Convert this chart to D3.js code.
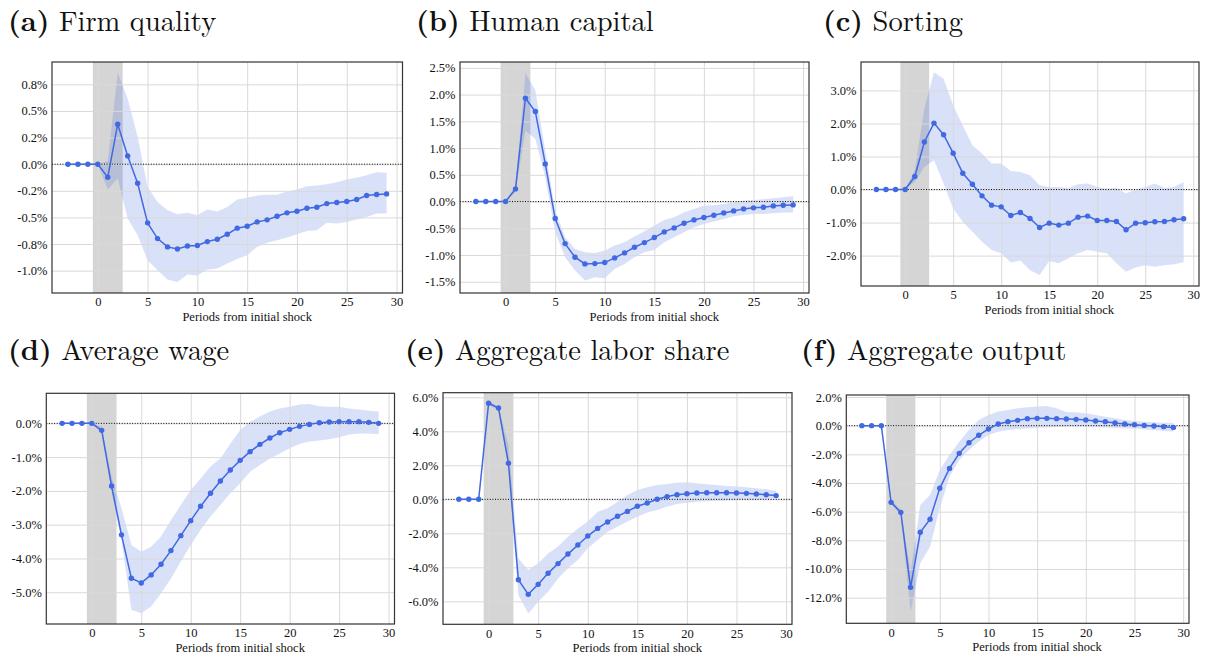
<!DOCTYPE html>
<html><head><meta charset="utf-8">
<script src="https://cdn.jsdelivr.net/npm/d3@7/dist/d3.min.js"></script>
<style>
html,body{margin:0;padding:0;background:#fff;}
svg{display:block;}
</style></head>
<body>
<svg id="chart" width="1208" height="659"></svg>
<script>
// ---------------- DATA (values in percent) ----------------
const periods = [-3,-2,-1,0,1,2,3,4,5,6,7,8,9,10,11,12,13,14,15,16,17,18,19,20,21,22,23,24,25,26,27,28,29];
const xTicks = [0,5,10,15,20,25,30];
const shockStart = -0.5, shockEnd = 2.5;

const titlesTag = ["(a)","(b)","(c)","(d)","(e)","(f)"];
const titlesText = ["Firm quality","Human capital","Sorting","Average wage","Aggregate labor share","Aggregate output"];
const xLabel = "Periods from initial shock";

const firmMean = [0,0,0,0,-0.122,0.376,0.078,-0.179,-0.551,-0.699,-0.777,-0.796,-0.768,-0.764,-0.727,-0.705,-0.658,-0.601,-0.583,-0.542,-0.523,-0.489,-0.457,-0.442,-0.414,-0.404,-0.370,-0.360,-0.351,-0.332,-0.294,-0.285,-0.279];
const firmHi = [0,0,0,0,0.03,0.858,0.617,0.257,-0.213,-0.354,-0.432,-0.47,-0.457,-0.479,-0.426,-0.445,-0.401,-0.332,-0.316,-0.294,-0.288,-0.288,-0.257,-0.238,-0.207,-0.2,-0.188,-0.169,-0.144,-0.128,-0.103,-0.075,-0.081];
const firmLo = [0,0,0,0,-0.238,-0.135,-0.51,-0.667,-0.902,-0.996,-1.084,-1.106,-1.037,-1.046,-0.99,-0.98,-0.934,-0.89,-0.855,-0.777,-0.739,-0.714,-0.689,-0.658,-0.627,-0.62,-0.551,-0.558,-0.542,-0.52,-0.495,-0.464,-0.464];
const firmTicks = [-1.0,-0.75,-0.5,-0.25,0,0.25,0.5,0.75];
const firmTickLabels = ["-1.0%","-0.8%","-0.5%","-0.2%","0.0%","0.2%","0.5%","0.8%"];

const humanMean = [0,0,0,0,0.237,1.933,1.683,0.704,-0.318,-0.786,-1.041,-1.166,-1.16,-1.141,-1.054,-0.96,-0.854,-0.767,-0.673,-0.567,-0.493,-0.405,-0.343,-0.299,-0.256,-0.212,-0.175,-0.137,-0.118,-0.106,-0.081,-0.069,-0.062];
const humanHi = [0,0,0,0,0.3,2.4,2.08,0.95,-0.168,-0.667,-0.885,-0.948,-0.96,-0.916,-0.823,-0.76,-0.655,-0.555,-0.449,-0.343,-0.293,-0.2,-0.137,-0.075,-0.069,-0.044,-0.012,0.019,0.031,0.044,0.062,0.081,0.1];
const humanLo = [0,0,0,0,0.18,1.33,1.17,0.455,-0.574,-1.04,-1.29,-1.478,-1.415,-1.434,-1.26,-1.166,-1.041,-0.948,-0.904,-0.76,-0.667,-0.574,-0.48,-0.418,-0.374,-0.324,-0.274,-0.249,-0.231,-0.231,-0.218,-0.206,-0.206];
const humanTicks = [-1.5,-1.0,-0.5,0,0.5,1.0,1.5,2.0,2.5];
const humanTickLabels = ["-1.5%","-1.0%","-0.5%","0.0%","0.5%","1.0%","1.5%","2.0%","2.5%"];

const sortMean = [0,0,0,0,0.393,1.44,2.01,1.66,1.10,0.493,0.161,-0.191,-0.473,-0.524,-0.785,-0.695,-0.876,-1.148,-1.017,-1.077,-1.017,-0.836,-0.805,-0.936,-0.936,-0.966,-1.218,-1.017,-1.007,-0.977,-0.966,-0.916,-0.886];
const sortHi = [0,0,0,0,0.58,2.45,3.55,3.35,2.55,1.94,1.34,1.09,0.785,0.785,0.564,0.534,0.433,0.131,0.08,0.08,0.05,0.16,0.18,0.08,0.03,0.05,-0.12,0,0.08,0.18,0.05,0.08,0.23];
const sortLo = [0,0,0,0,0.23,0.685,0.886,0.18,-0.574,-0.977,-1.28,-1.58,-1.83,-1.93,-2.21,-2.15,-2.44,-2.59,-2.16,-2.23,-2.08,-1.93,-1.83,-1.88,-1.93,-2.23,-2.49,-2.36,-2.29,-2.34,-2.29,-2.26,-2.2];
const sortTicks = [-2,-1,0,1,2,3];
const sortTickLabels = ["-2.0%","-1.0%","0.0%","1.0%","2.0%","3.0%"];

const wageMean = [0,0,0,0,-0.207,-1.854,-3.30,-4.586,-4.724,-4.487,-4.172,-3.767,-3.324,-2.88,-2.456,-2.071,-1.706,-1.381,-1.095,-0.838,-0.621,-0.434,-0.276,-0.178,-0.089,-0.03,0.02,0.04,0.05,0.05,0.05,0.03,0.0];
const wageHi = [0,0,0,0,-0.1,-1.58,-2.51,-3.6,-3.8,-3.65,-3.35,-2.86,-2.42,-1.97,-1.63,-1.28,-1.04,-0.6,-0.2,0.05,0.2,0.35,0.44,0.49,0.56,0.57,0.51,0.49,0.49,0.44,0.41,0.37,0.35];
const wageLo = [0,0,0,0,-0.3,-2.02,-3.45,-5.52,-5.62,-5.42,-5.03,-4.59,-4.09,-3.6,-3.16,-2.76,-2.42,-2.07,-1.78,-1.43,-1.23,-1.04,-0.89,-0.74,-0.61,-0.54,-0.51,-0.47,-0.41,-0.33,-0.3,-0.3,-0.32];
const wageTicks = [-5,-4,-3,-2,-1,0];
const wageTickLabels = ["-5.0%","-4.0%","-3.0%","-2.0%","-1.0%","0.0%"];

const laborMean = [0,0,0,5.65,5.37,2.12,-4.73,-5.59,-5.0,-4.35,-3.78,-3.22,-2.69,-2.16,-1.71,-1.33,-1.0,-0.71,-0.41,-0.22,0,0.16,0.27,0.33,0.37,0.39,0.39,0.39,0.37,0.35,0.31,0.27,0.22];
const laborHi = [0,0,0,5.75,5.45,3.2,-3.47,-4.16,-3.76,-3.18,-2.78,-2.2,-1.71,-1.31,-0.73,-0.53,-0.14,0.25,0.55,0.71,0.84,0.9,0.98,1.0,0.94,0.88,0.84,0.78,0.75,0.71,0.65,0.59,0.49];
const laborLo = [0,0,0,5.55,5.25,1.9,-5.63,-6.71,-6.02,-5.43,-4.65,-4.06,-3.57,-2.88,-2.39,-1.9,-1.61,-1.31,-1.02,-0.78,-0.63,-0.43,-0.27,-0.2,-0.14,-0.12,-0.08,-0.08,-0.04,-0.04,-0.04,0,0.06];
const laborTicks = [-6,-4,-2,0,2,4,6];
const laborTickLabels = ["-6.0%","-4.0%","-2.0%","0.0%","2.0%","4.0%","6.0%"];

const outputMean = [0,0,0,-5.35,-6.05,-11.28,-7.44,-6.53,-4.37,-2.98,-1.93,-1.19,-0.67,-0.23,0.12,0.28,0.37,0.49,0.51,0.51,0.49,0.47,0.44,0.40,0.33,0.28,0.19,0.12,0.07,0.02,-0.02,-0.07,-0.12];
const outputHi = [0,0,0,-5.19,-5.88,-10.19,-5.53,-4.84,-3.09,-2.05,-1.12,-0.3,0.4,0.74,0.98,1.09,1.21,1.28,1.33,1.37,1.21,0.95,0.93,0.86,0.74,0.63,0.51,0.4,0.33,0.28,0.23,0.21,0.21];
const outputLo = [0,0,0,-5.47,-6.23,-12.98,-9.6,-8.44,-5.77,-3.56,-2.4,-1.7,-1.12,-0.65,-0.42,-0.3,-0.23,-0.19,-0.14,-0.12,-0.07,-0.02,-0.02,-0.02,-0.07,-0.12,-0.14,-0.19,-0.19,-0.26,-0.3,-0.35,-0.42];
const outputTicks = [-12,-10,-8,-6,-4,-2,0,2];
const outputTickLabels = ["-12.0%","-10.0%","-8.0%","-6.0%","-4.0%","-2.0%","0.0%","2.0%"];

// ---------------- LAYOUT ----------------
const xDomain = [-4.6, 30.6];
const panels = [
  {mean:firmMean, hi:firmHi, lo:firmLo, ticks:firmTicks, labels:firmTickLabels, yDomain:[-1.21,0.96],
   box:{l:52,r:402.5,t:62,b:293}, title:{x:8,y:31}},
  {mean:humanMean, hi:humanHi, lo:humanLo, ticks:humanTicks, labels:humanTickLabels, yDomain:[-1.71,2.61],
   box:{l:460,r:809,t:62,b:293}, title:{x:416,y:31}},
  {mean:sortMean, hi:sortHi, lo:sortLo, ticks:sortTicks, labels:sortTickLabels, yDomain:[-2.92,3.86],
   box:{l:861,r:1199,t:62,b:286}, title:{x:823,y:31}},
  {mean:wageMean, hi:wageHi, lo:wageLo, ticks:wageTicks, labels:wageTickLabels, yDomain:[-5.94,0.89],
   box:{l:46.3,r:394.5,t:393.3,b:624}, title:{x:8,y:360}},
  {mean:laborMean, hi:laborHi, lo:laborLo, ticks:laborTicks, labels:laborTickLabels, yDomain:[-7.35,6.27],
   box:{l:443,r:792,t:392.7,b:624.3}, title:{x:405,y:360}},
  {mean:outputMean, hi:outputHi, lo:outputLo, ticks:outputTicks, labels:outputTickLabels, yDomain:[-13.79,2.14],
   box:{l:846.3,r:1189,t:395,b:623.3}, title:{x:801,y:360}}
];

const blue = "royalblue";
const svg = d3.select("#chart");
const tickFont = "Liberation Serif";
const titleFont = "Latin Modern Roman";

panels.forEach((p, i) => {
  const B = p.box;
  const x = d3.scaleLinear().domain(xDomain).range([B.l, B.r]);
  const y = d3.scaleLinear().domain(p.yDomain).range([B.b, B.t]);
  const g = svg.append("g");

  const clipId = "clip" + i;
  g.append("clipPath").attr("id", clipId).append("rect")
    .attr("x", B.l).attr("y", B.t).attr("width", B.r - B.l).attr("height", B.b - B.t);
  const back = g.append("g").attr("clip-path", `url(#${clipId})`);
  const gridLayer = g.append("g");
  const front = g.append("g").attr("clip-path", `url(#${clipId})`);

  // shock shading
  back.append("rect")
    .attr("x", x(shockStart)).attr("width", x(shockEnd) - x(shockStart))
    .attr("y", B.t).attr("height", B.b - B.t)
    .attr("fill", "#d5d5d5");

  // confidence band
  const rows = periods.map((t, k) => ({t, m:p.mean[k], hi:p.hi[k], lo:p.lo[k]}));
  back.append("path").datum(rows)
    .attr("d", d3.area().x(d => x(d.t)).y0(d => y(d.lo)).y1(d => y(d.hi)))
    .attr("fill", blue).attr("fill-opacity", 0.2);

  // grid + axes
  const yAxis = d3.axisLeft(y).tickValues(p.ticks)
    .tickFormat((d, k) => p.labels[k])
    .tickSizeInner(-(B.r - B.l)).tickSizeOuter(0).tickPadding(4.5);
  const ya = gridLayer.append("g").attr("transform", `translate(${B.l},0)`).call(yAxis);
  const xAxis = d3.axisBottom(x).tickValues(xTicks).tickFormat(d3.format("d"))
    .tickSizeInner(-(B.b - B.t)).tickSizeOuter(0).tickPadding(4.5);
  const xa = gridLayer.append("g").attr("transform", `translate(0,${B.b})`).call(xAxis);
  [ya, xa].forEach(a => {
    a.attr("font-family", tickFont).attr("font-size", 12.5);
    a.select(".domain").remove();
    a.selectAll(".tick line").attr("stroke", "#d9d9d9").attr("stroke-width", 1);
    a.selectAll(".tick text").attr("fill", "#111");
  });

  // zero line
  front.append("line")
    .attr("x1", B.l).attr("x2", B.r).attr("y1", y(0)).attr("y2", y(0))
    .attr("stroke", "#000").attr("stroke-width", 1).attr("stroke-dasharray", "1,1.6");

  // mean line and markers
  front.append("path").datum(rows)
    .attr("d", d3.line().x(d => x(d.t)).y(d => y(d.m)))
    .attr("fill", "none").attr("stroke", blue).attr("stroke-width", 1.5);
  front.selectAll("circle").data(rows).join("circle")
    .attr("cx", d => x(d.t)).attr("cy", d => y(d.m)).attr("r", 2.7)
    .attr("fill", blue);

  // frame
  g.append("rect")
    .attr("x", B.l).attr("y", B.t).attr("width", B.r - B.l).attr("height", B.b - B.t)
    .attr("fill", "none").attr("stroke", "#333").attr("stroke-width", 1.2);

  // x label
  g.append("text")
    .attr("x", (x(0) + x(30)) / 2).attr("y", B.b + 27.5)
    .attr("text-anchor", "middle")
    .attr("font-family", tickFont).attr("font-size", 12.5).attr("fill", "#111")
    .text(xLabel);

  // title
  const t = g.append("text").attr("x", p.title.x).attr("y", p.title.y)
    .attr("font-family", titleFont).attr("font-size", 28.5).attr("fill", "#111");
  t.append("tspan").attr("font-weight", "bold").text(titlesTag[i]);
  t.append("tspan").text(" " + titlesText[i]);
});
</script>
</body></html>
